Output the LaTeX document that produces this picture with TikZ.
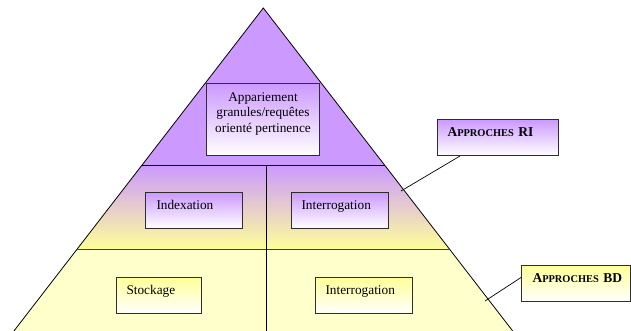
\documentclass[tikz,border=0pt]{standalone}
\usepackage{fontspec}
\setmainfont{Liberation Serif}
\usetikzlibrary{calc}

\definecolor{lilac}{HTML}{CC99FF}
\definecolor{butter}{HTML}{FFFF99}
\definecolor{cream}{HTML}{FFFFCC}
\definecolor{edge}{HTML}{2E2E2E}

\newcommand{\capslabel}[1]{\mbox{\bfseries{\fontsize{13.5}{15}\selectfont A}{\fontsize{10.4}{15}\selectfont PPROCHES} {\fontsize{13.5}{15}\selectfont #1}}}

\begin{document}
\begin{tikzpicture}[x=1pt,y=-1pt,
  every node/.style={font=\rmfamily\fontsize{13.3}{15.5}\selectfont, text=black},
  tierline/.style={draw=black, line width=0.8pt},
  framebox/.style={draw=edge, line width=1pt, rectangle, anchor=north west},
  panel/.style={framebox, inner ysep=5pt, text height=12pt, text depth=14pt, align=left},
  lilacfill/.style={top color=lilac, bottom color=white},
  butterfill/.style={top color=butter, bottom color=white},
  leader/.style={draw=black, line width=0.7pt}
]
\useasboundingbox (0,0) rectangle (631,331);
\clip (0,0) rectangle (631,331);

% pyramid corners
\coordinate (apex) at (263.3,8);
\coordinate (tl) at (142.1,165);
\coordinate (tr) at (384.5,165);
\coordinate (ml) at (77.3,249);
\coordinate (mr) at (449.3,249);
\coordinate (bl) at (13.9,331);
\coordinate (br) at (512.7,331);

% tier fills
\fill[lilac] (apex) -- (tr) -- (tl) -- cycle;
\shade[top color=lilac, bottom color=butter] (tl) -- (tr) -- (mr) -- (ml) -- cycle;
\fill[cream] (ml) -- (mr) -- (br) -- (bl) -- cycle;

% pyramid outline and dividers
\draw[tierline] (bl) -- (apex) -- (br);
\draw[tierline] (tl) -- (tr);
\draw[tierline, draw=black!75] (ml) -- (mr);
\coordinate (divtop) at (266.5,165);
\coordinate (divbot) at (266.5,331);
\draw[tierline] (divtop) -- (divbot);

% top tier
\node[framebox, lilacfill, minimum width=113pt, minimum height=72pt, inner sep=0pt] (appbox) at (206,83) {};
\node[anchor=north, align=center, inner xsep=0pt, inner ysep=9pt] (apptext)
      at (appbox.north) {Appariement\\granules/requêtes\\orienté pertinence};

% middle tier
\node[panel, lilacfill, inner xsep=11pt, text width=75pt] (index) at (145,192) {Indexation};
\node[panel, lilacfill, inner xsep=10pt, text width=77pt] (queryri) at (291,192) {Interrogation};

% bottom tier
\node[panel, butterfill, inner xsep=10pt, text width=65pt] (store) at (116,277) {Stockage};
\node[panel, butterfill, inner xsep=10pt, text width=77pt] (querybd) at (315,277) {Interrogation};

% side labels
\node[panel, lilacfill, inner xsep=10pt, text width=101pt] (ri) at (437,119) {\capslabel{RI}};
\node[panel, butterfill, inner xsep=11pt, text width=87pt] (bd) at (521,265) {\capslabel{BD}};

% leader lines
\coordinate (ritip) at (401,191);
\coordinate (bdtip) at (485,301);
\draw[leader] ($(ri.south west)+(23,0)$) -- (ritip);
\draw[leader] ($(bd.west)+(0,-6)$) -- (bdtip);
\end{tikzpicture}
\end{document}
